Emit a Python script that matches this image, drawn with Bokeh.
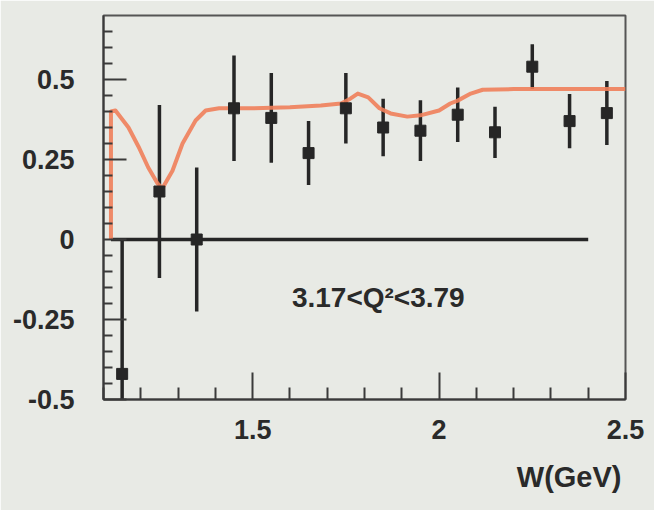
from bokeh.plotting import figure
from bokeh.models import Range1d, FixedTicker, PrintfTickFormatter, Label, ColumnDataSource, Title
from bokeh.embed import file_html
from bokeh.resources import INLINE

# ---- data ----
w_points = [1.15, 1.25, 1.35, 1.45, 1.55, 1.65, 1.75, 1.85, 1.95, 2.05, 2.15, 2.25, 2.35, 2.45]
a_points = [-0.42, 0.15, 0.0, 0.41, 0.38, 0.27, 0.41, 0.35, 0.34, 0.39, 0.335, 0.54, 0.37, 0.395]
a_errors = [0.42, 0.27, 0.225, 0.165, 0.14, 0.10, 0.11, 0.09, 0.095, 0.085, 0.08, 0.07, 0.085, 0.10]

curve_w = [1.12, 1.12, 1.132, 1.167, 1.194, 1.22, 1.245, 1.258, 1.285, 1.312, 1.347, 1.374, 1.41,
           1.5, 1.6, 1.683, 1.737, 1.762, 1.782, 1.81, 1.84, 1.87, 1.915, 1.95, 2.0, 2.03, 2.05,
           2.085, 2.117, 2.2, 2.3, 2.4, 2.5]
curve_a = [0.0, 0.40, 0.403, 0.35, 0.29, 0.225, 0.175, 0.16, 0.215, 0.30, 0.372, 0.403, 0.41,
           0.41, 0.413, 0.419, 0.425, 0.44, 0.456, 0.444, 0.41, 0.394, 0.384, 0.388, 0.403, 0.425, 0.434,
           0.456, 0.468, 0.47, 0.47, 0.47, 0.47]

zero_w = [1.12, 2.4]
zero_a = [0.0, 0.0]

x_major_ticks = [1.5, 2.0, 2.5]
x_minor_ticks = [1.1, 1.2, 1.3, 1.4, 1.6, 1.7, 1.8, 1.9, 2.1, 2.2, 2.3, 2.4]
y_major_ticks = [-0.5, -0.25, 0.0, 0.25, 0.5]
y_minor_ticks = [-0.45, -0.4, -0.35, -0.3, -0.2, -0.15, -0.1, -0.05, 0.05, 0.1, 0.15, 0.2,
                 0.3, 0.35, 0.4, 0.45, 0.55, 0.6, 0.65]

range_label = "3.17<Q²<3.79"
x_title = "W(GeV)"

# ---- styling ----
BG = "#e8eae5"
INK = "#262626"
CURVE = "#f0805a"
FONT = "Liberation Sans"

p = figure(width=654, height=510,
           x_range=Range1d(1.1, 2.5), y_range=Range1d(-0.5, 0.7),
           output_backend="svg", toolbar_location=None,
           min_border_left=103, min_border_right=29, min_border_top=15, min_border_bottom=110,
           background_fill_color=BG, border_fill_color=BG)
p.grid.visible = False
p.outline_line_color = "#555555"
p.outline_line_width = 2

for ax in (p.xaxis[0], p.yaxis[0]):
    ax.axis_line_color = "#3a3a3a"
    ax.axis_line_width = 2
    ax.major_tick_line_color = "#3a3a3a"
    ax.minor_tick_line_color = "#3a3a3a"
    ax.major_tick_line_width = 2
    ax.minor_tick_line_width = 2
    ax.major_tick_out = 0
    ax.minor_tick_out = 0
    ax.major_label_text_font = FONT
    ax.major_label_text_font_style = "bold"
    ax.major_label_text_font_size = "27px"
    ax.major_label_text_color = "#2a2a2a"
    ax.formatter = PrintfTickFormatter(format="%g")

p.xaxis.ticker = FixedTicker(ticks=x_major_ticks, minor_ticks=x_minor_ticks)
p.yaxis.ticker = FixedTicker(ticks=y_major_ticks, minor_ticks=y_minor_ticks)
p.xaxis.major_tick_in = 27
p.xaxis.minor_tick_in = 12
p.yaxis.major_tick_in = 23
p.yaxis.minor_tick_in = 9
p.xaxis.major_label_standoff = 20
p.yaxis.major_label_standoff = 29

src = ColumnDataSource(dict(
    w=w_points, a=a_points,
    lo=[a - e for a, e in zip(a_points, a_errors)],
    hi=[a + e for a, e in zip(a_points, a_errors)],
))

p.line(zero_w, zero_a, line_color=INK, line_width=3.5)
p.segment(x0="w", y0="lo", x1="w", y1="hi", source=src, line_color=INK, line_width=3.5)
p.line(curve_w, curve_a, line_color=CURVE, line_width=4, line_alpha=0.9, line_join="round")
p.scatter(x="w", y="a", source=src, marker="square", size=11, fill_color=INK, line_color=INK)

p.add_layout(Label(x=1.837, y=-0.181, text=range_label, text_align="center", text_baseline="middle",
                   text_font=FONT, text_font_style="bold", text_font_size="28px",
                   text_color="#2a2a2a"))

xt = Title(text=x_title, align="right", text_font=FONT, text_font_style="bold",
           text_font_size="29px", text_color="#2a2a2a", standoff=35, offset=4)
p.add_layout(xt, "below")

html = file_html(p, INLINE)
html = html.replace("<body>", '<body style="background-color:%s;">' % BG, 1)
open("out.html", "w").write(html)
